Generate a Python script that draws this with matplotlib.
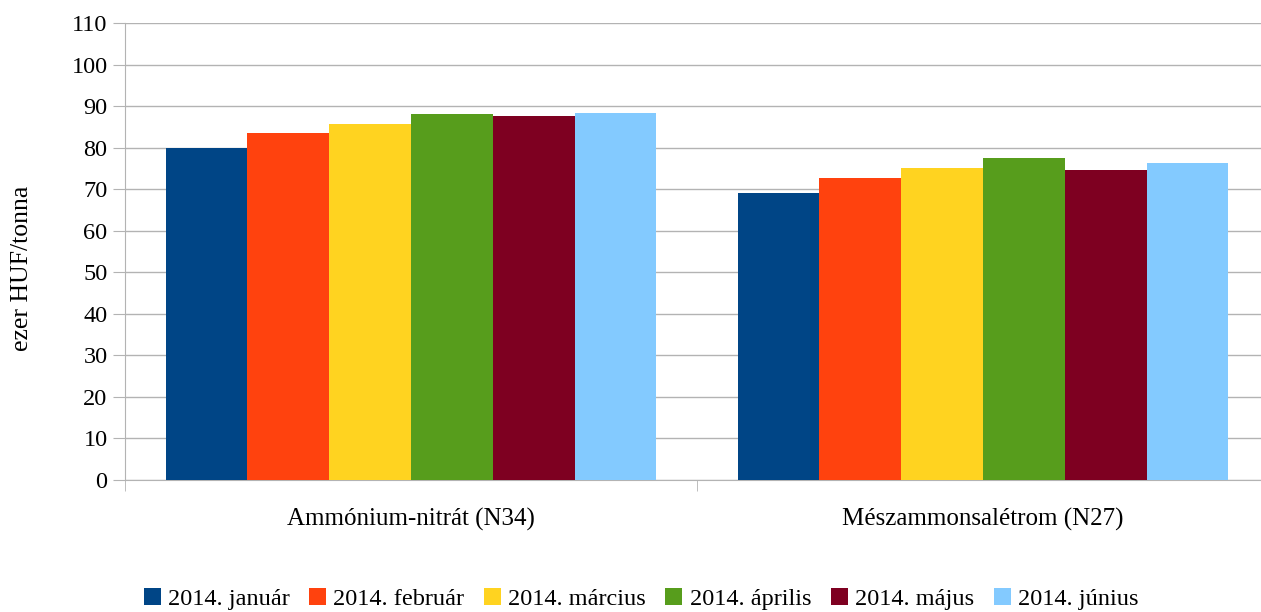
import matplotlib
matplotlib.use("Agg")
import matplotlib.pyplot as plt
import numpy as np

categories = ["Ammónium-nitrát (N34)", "Mészammonsalétrom (N27)"]
series = ["2014. január", "2014. február", "2014. március", "2014. április", "2014. május", "2014. június"]
jan = [79.8, 69.0]
feb = [83.5, 72.8]
mar = [85.6, 75.0]
apr = [88.1, 77.4]
maj = [87.6, 74.7]
jun = [88.3, 76.2]
values = [jan, feb, mar, apr, maj, jun]
colors = ["#004586", "#ff420e", "#ffd320", "#579d1c", "#7e0021", "#83caff"]
yticks = list(range(0, 111, 10))

plt.rcParams['font.family'] = ['Liberation Serif', 'DejaVu Serif']
fig = plt.figure(figsize=(12.61, 6.12), dpi=100)
ax = fig.add_axes([125/1261, 1-480/612, 1144/1261, 457/612])

n = len(series)
group_w = 0.858
bw = group_w / n
x = np.arange(len(categories))
for i, (name, vals, c) in enumerate(zip(series, values, colors)):
    ax.bar(x - group_w/2 + bw*(i+0.5), vals, width=bw, color=c, label=name, zorder=3)

ax.set_xlim(-0.5, len(categories)-0.5)
ax.set_ylim(0, 110)
ax.set_yticks(yticks)
ax.tick_params(axis='y', labelsize=17.5, length=8.6, color='#b3b3b3', pad=4)
ax.yaxis.grid(True, color='#b3b3b3', linewidth=1, zorder=0)
ax.set_xticks(x)
ax.set_xticklabels(categories, fontsize=18)
ax.tick_params(axis='x', length=0, pad=20)
ax.set_xticks([-0.5, 0.5, 1.5], minor=True)
ax.tick_params(axis='x', which='minor', length=8, color='#b3b3b3')
for s in ['top', 'right']:
    ax.spines[s].set_visible(False)
for s in ['left', 'bottom']:
    ax.spines[s].set_color('#b3b3b3')
ax.set_ylabel("ezer HUF/tonna", fontsize=18.5)
ax.yaxis.set_label_coords(-0.08, 0.464)

fig.legend(loc='center', bbox_to_anchor=(641/1261, 1-599/612), ncol=6, frameon=False,
           fontsize=17.5, handlelength=0.7, handleheight=0.7, handletextpad=0.3,
           columnspacing=0.8)
fig.savefig("out.png", dpi=100)
